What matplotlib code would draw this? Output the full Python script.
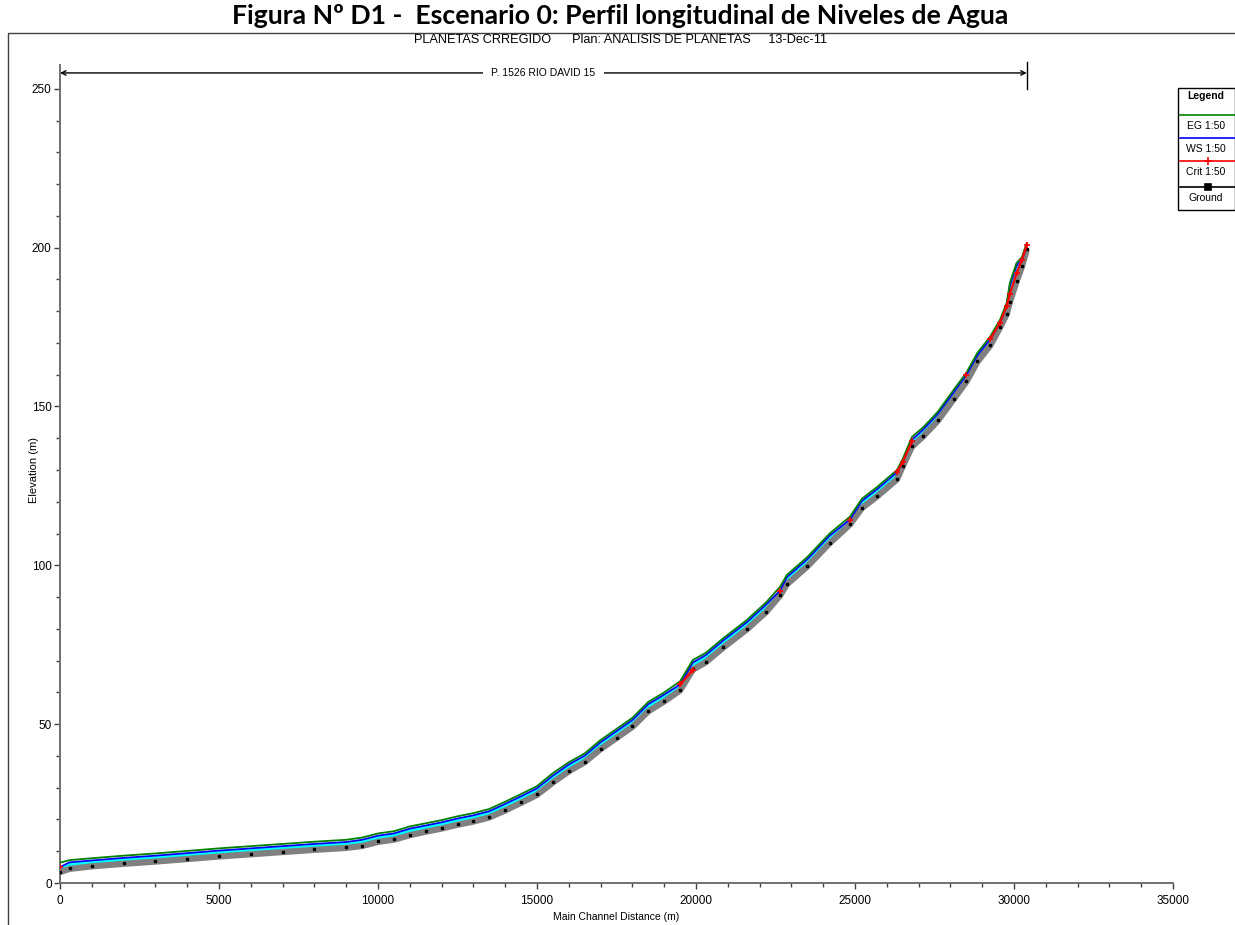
import numpy as np
import matplotlib
matplotlib.use("Agg")
import matplotlib.pyplot as plt
from matplotlib.patches import Rectangle
from matplotlib.ticker import MultipleLocator
import matplotlib.transforms as mtransforms

# ---------------- data ----------------
stations = [0, 300, 1000, 2000, 3000, 4000, 5000, 6000, 7000, 8000, 9000, 9500,
            10000, 10500, 11000, 11500, 12000, 12500, 13000, 13500, 14000, 14500,
            15000, 15500, 16000, 16500, 17000, 17500, 18000, 18500, 19000, 19500,
            19900, 20300, 20850, 21600, 22200, 22640, 22860, 23500, 24200, 24840,
            25220, 25700, 26320, 26500, 26790, 27150, 27600, 28100, 28500, 28850,
            29250, 29560, 29770, 29870, 30080, 30250, 30400]
eg_150 = [6.4, 7.2, 7.8, 8.6, 9.3, 10.1, 10.9, 11.6, 12.3, 13.0, 13.6, 14.3,
          15.6, 16.3, 17.8, 18.8, 19.8, 21.0, 22.0, 23.3, 25.6, 28.0,
          30.5, 34.6, 38.0, 40.8, 45.0, 48.5, 52.0, 57.0, 60.0, 63.5,
          70.2, 72.4, 77.0, 82.8, 88.3, 93.2, 97.0, 102.6, 110.0, 115.3,
          121.0, 124.7, 130.0, 133.5, 140.4, 143.5, 148.3, 155.2, 160.6, 166.9,
          172.0, 177.3, 182.6, 188.9, 195.2, 197.0, 201.5]
ws_150 = [5.0, 6.5, 7.1, 7.9, 8.6, 9.4, 10.2, 10.9, 11.6, 12.3, 12.9, 13.6,
          14.9, 15.6, 17.1, 18.1, 19.1, 20.3, 21.3, 22.6, 24.9, 27.3,
          29.8, 33.8, 37.3, 40.1, 44.3, 47.8, 51.3, 56.3, 59.3, 62.5,
          69.4, 71.7, 76.3, 82.1, 87.6, 92.0, 96.3, 101.9, 109.3, 114.4,
          120.3, 124.0, 129.3, 132.6, 139.5, 142.8, 147.6, 154.4, 159.9, 166.1,
          171.2, 176.4, 181.7, 188.0, 194.3, 196.2, 200.8]
ground = [3.6, 4.6, 5.4, 6.2, 6.9, 7.7, 8.5, 9.2, 9.9, 10.6, 11.2, 11.8,
          13.1, 13.8, 15.2, 16.3, 17.3, 18.5, 19.5, 20.8, 23.0, 25.4,
          27.9, 31.8, 35.3, 38.2, 42.3, 45.8, 49.3, 54.2, 57.3, 60.8,
          67.3, 69.6, 74.2, 80.0, 85.4, 90.6, 94.2, 99.8, 107.1, 113.0,
          118.2, 121.9, 127.2, 131.3, 137.5, 140.8, 145.6, 152.4, 157.9, 164.2,
          169.3, 175.0, 179.2, 183.0, 189.5, 194.2, 199.5]
nan = np.nan
crit_150 = [5.0, nan, nan, nan, nan, nan, nan, nan, nan, nan, nan, nan,
            nan, nan, nan, nan, nan, nan, nan, nan, nan, nan,
            nan, nan, nan, nan, nan, nan, nan, nan, nan, 62.5,
            67.0, nan, nan, nan, nan, 92.0, nan, nan, nan, 114.4,
            nan, nan, 129.3, 132.6, 139.0, nan, nan, nan, 159.9, nan,
            171.2, 176.4, 181.7, 185.5, 192.0, 196.2, 200.8]

x_ticks = [0, 5000, 10000, 15000, 20000, 25000, 30000, 35000]
y_ticks = [0, 50, 100, 150, 200, 250]
reach_label = "P. 1526 RIO DAVID 15"
header = "PLANETAS CRREGIDO      Plan: ANALISIS DE PLANETAS     13-Dec-11"
title = "Figura Nº D1 -  Escenario 0: Perfil longitudinal de Niveles de Agua"
legend_entries = [("EG 1:50", "#008000", None), ("WS 1:50", "#0000ff", None),
                  ("Crit 1:50", "#ff0000", "+"), ("Ground", "#000000", "s")]

# ---------------- figure ----------------
W, H = 1235, 925
fig = plt.figure(figsize=(W / 100, H / 100), dpi=100)
fig.patch.set_facecolor("white")
narrow = ["Liberation Sans Narrow", "Liberation Sans", "DejaVu Sans"]

# outer frame
fig.add_artist(Rectangle((8 / W, -0.01), 1.0, 1 - 33 / H + 0.01, transform=fig.transFigure,
                         fill=False, lw=1.0, ec="#404040"))

fig.text(620 / W, 1 - 15.5 / H, title, ha="center", va="center", fontsize=19.2,
         fontweight="bold", family=["Lato", "DejaVu Sans"])
fig.text(620 / W, 1 - 40 / H, header, ha="center", va="center", fontsize=9.2,
         family=narrow)

L, R, B, T = 60, 1173, 883, 65
ax = fig.add_axes([L / W, 1 - B / H, (R - L) / W, (B - T) / H])
ax.set_xlim(0, 35000)
ax.set_ylim(0, 257.5)

x = np.array(stations, float)
g = np.array(ground, float)
ws = np.array(ws_150, float)
eg = np.array(eg_150, float)
cr = np.array(crit_150, float)

ax.fill_between(x, g, ws, color="#00ffff", lw=0, zorder=2)
dn = mtransforms.offset_copy(ax.transData, fig=fig, x=0, y=-0.5, units="dots")
ax.plot(x, g, color="#808080", lw=4.5, solid_capstyle="butt", transform=dn, zorder=3)
ax.plot(x, g, color="#000000", lw=0, marker="s", ms=1.6, zorder=4)
ax.plot(x, ws, color="#0000ff", lw=1.3, zorder=5)
ax.plot(x, eg, color="#008000", lw=1.3, zorder=5)
ax.plot(x, cr, color="#ff0000", lw=1.6, marker="+", ms=5, mew=1.2, zorder=6)

# reach line
ry = 255.0
ax.annotate("", xy=(x[0], ry), xytext=(x[-1], ry),
            arrowprops=dict(arrowstyle="<->", lw=1.0, color="black",
                            shrinkA=0, shrinkB=0, mutation_scale=8),
            annotation_clip=False)
ax.plot([x[-1], x[-1]], [250.0, 258.5], color="black", lw=1.0, clip_on=False)
ax.text((x[0] + x[-1]) / 2, ry, reach_label, ha="center", va="center", fontsize=7.5,
        family=narrow, bbox=dict(fc="white", ec="none", pad=6), zorder=7)

for s in ["top", "right"]:
    ax.spines[s].set_visible(False)
for s in ["left", "bottom"]:
    ax.spines[s].set_color("#707070")
    ax.spines[s].set_linewidth(1.4)
ax.set_xticks(x_ticks)
ax.set_yticks(y_ticks)
ax.xaxis.set_minor_locator(MultipleLocator(1000))
ax.yaxis.set_minor_locator(MultipleLocator(10))
ax.tick_params(which="both", direction="out", color="#404040", width=1.0)
ax.tick_params(which="major", length=4, labelsize=8.5, pad=2)
ax.tick_params(which="minor", length=3)
for lab in ax.get_xticklabels() + ax.get_yticklabels():
    lab.set_family(narrow)
ax.tick_params(axis="x", pad=5)

ax.set_ylabel("Elevation (m)", fontsize=8, family=narrow)
ax.yaxis.set_label_coords(-0.0185, 0.505)
ax.set_xlabel("Main Channel Distance (m)", fontsize=7.5, family=narrow)
ax.xaxis.set_label_coords(0.5, -0.036)

# legend box
lx0, ly0, lw_, lh = 1177, 87, 58, 123
lax = fig.add_axes([lx0 / W, 1 - (ly0 + lh) / H, lw_ / W, lh / H])
lax.set_xlim(0, lw_)
lax.set_ylim(lh, 0)
lax.axis("off")
lax.add_patch(Rectangle((0.5, 0.5), lw_ - 0.5, lh - 1, fill=False, lw=1.0, ec="black",
                        clip_on=False))
lax.text(lw_ / 2, 9, "Legend", ha="center", va="center", fontsize=7.5,
         fontweight="bold", family=narrow)
line_y = [28, 51, 74, 100]
text_y = [39, 62, 85, 111]
for (lab, col, mk), yy, ty in zip(legend_entries, line_y, text_y):
    lax.plot([3, lw_], [yy, yy], color=col, lw=1.2)
    if mk:
        lax.plot([(3 + lw_) / 2], [yy], color=col, marker=mk,
                 ms=4 if mk == "s" else 6, mew=1.2, lw=0)
    lax.text(lw_ / 2, ty, lab, ha="center", va="center", fontsize=7.5, family=narrow)

fig.savefig("out.png", dpi=100)
